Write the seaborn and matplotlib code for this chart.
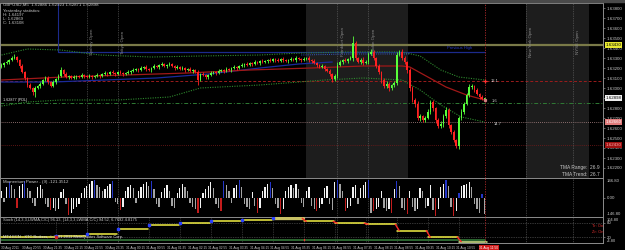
import matplotlib
matplotlib.use("Agg")
import matplotlib.pyplot as plt
from matplotlib.patches import Rectangle
import numpy as np
import pandas as pd
import seaborn as sns

sns.set_theme(style="dark")
plt.rcParams['font.family'] = ['Liberation Sans', 'DejaVu Sans']

# ---------------- data (prices in 1e-4 units) ----------------
close_pts = [16323,16325,16326,16328,16330,16331,16328,16322,16316,16310,
             16303,16300,16296,16300,16302,16304,16308,16310,16306,16302,
             16306,16309,16312,16318,16314,16311,16312,16310,16311,16312,
             16311,16313,16312,16311,16312,16311,16312,16313,16312,16314,
             16315,16314,16316,16315,16314,16316,16315,16314,16315,16316,
             16317,16318,16319,16318,16320,16321,16319,16318,16320,16322,
             16321,16323,16324,16322,16323,16324,16322,16320,16321,16319,
             16320,16318,16319,16317,16318,16316,16308,16314,16313,16311,
             16313,16315,16316,16315,16317,16318,16317,16319,16318,16320,
             16321,16320,16322,16323,16324,16323,16325,16324,16326,16325,
             16327,16326,16327,16328,16327,16329,16328,16327,16329,16328,
             16327,16328,16329,16328,16330,16329,16328,16329,16330,16328,
             16327,16325,16323,16321,16322,16319,16317,16314,16309,16312,
             16323,16326,16328,16327,16329,16330,16345,16330,16326,16328,
             16325,16326,16334,16336,16330,16322,16316,16308,16302,16304,
             16300,16303,16305,16333,16336,16330,16326,16318,16300,16288,
             16284,16270,16272,16268,16270,16276,16286,16280,16268,16262,
             16264,16272,16278,16263,16256,16248,16242,16270,16276,16284,
             16293,16301,16302,16298,16294,16291,16289,16290]
first_open = 16321
wick_up = [2,1,2,1,2,3,1,1,2,1, 1,2,1,2,1,2,1,2,2,1, 2,1,2,3,1,2,1,1,2,1,
           1,2,1,1,2,1,1,2,1,1, 2,1,1,2,1,1,2,1,1,2, 1,2,1,1,2,1,2,1,1,2,
           1,1,2,1,1,2,1,1,2,1, 2,1,1,2,1,1,2,1,2,1, 1,2,1,1,2,1,1,2,1,1,
           2,1,1,2,1,2,1,1,2,1, 1,2,1,1,2,1,1,2,1,2, 1,1,2,1,2,1,1,2,1,2,
           1,2,1,1,2,1,1,2,1,2, 3,2,1,2,1,2,7,2,1,2, 3,2,2,3,2,1,2,1,2,3,
           2,1,2,3,2,3,2,1,2,2, 2,3,2,1,2,3,2,2,1,2, 3,2,3,2,1,2,1,2,3,2,
           2,3,2,1,2,1,2,1]
wick_dn = [1,2,1,2,1,1,2,2,1,2, 2,1,3,5,1,2,1,1,2,1, 1,2,1,1,2,1,2,1,1,2,
           1,1,2,1,1,2,1,1,2,1, 1,2,1,1,2,1,1,2,1,1, 2,1,1,2,1,1,2,1,2,1,
           1,2,1,1,2,1,1,2,1,1, 1,2,1,1,2,1,5,1,1,2, 2,1,1,2,1,1,2,1,1,2,
           1,2,1,1,2,1,1,2,1,1, 2,1,1,2,1,1,2,1,1,2, 1,2,1,1,2,1,2,1,1,2,
           2,1,2,1,1,2,1,2,3,2, 2,1,2,1,2,1,3,2,1,2, 2,1,2,1,2,2,2,3,2,2,
           3,2,2,2,1,2,2,3,3,2, 3,2,3,2,2,1,2,3,3,2, 2,3,2,3,2,2,2,3,2,2,
           1,2,2,2,1,2,1,1]

# TMA / band lines: (bar, price)
tma_mid_bars = [0, 24, 48, 72, 96, 120, 140, 155, 158, 165, 172, 180, 187]
tma_mid_pts = [16308, 16311, 16313, 16315, 16318, 16320, 16322, 16322, 16321, 16311, 16301, 16293, 16288]
band_up_bars = [0, 10, 23, 38, 58, 77, 100, 116, 135, 155, 162, 170, 177, 187]
band_up_pts = [16333, 16339, 16338, 16333, 16331, 16332, 16333, 16335, 16336, 16336, 16332, 16318, 16311, 16308]
band_dn_bars = [0, 10, 23, 45, 65, 77, 100, 125, 140, 155, 162, 170, 178, 187]
band_dn_pts = [16282, 16286, 16288, 16288, 16291, 16300, 16303, 16308, 16310, 16308, 16298, 16283, 16271, 16266]
navy_bars = [0, 20, 40, 60, 80, 100, 115, 128]
navy_pts = [16306, 16306, 16308, 16310, 16314, 16320, 16324, 16326]
ltblue_bars = [116, 135, 158]
ltblue_pts = [16333, 16334, 16334]

lvl_yellow = 16343
lvl_red_dash = 16307
lvl_green_dd = 16285
lvl_pink_dot = 16266
lvl_dred_dot = 16243
prev_high = 16336
prev_start_bar = 22
current_bar = 187

session_bars = [33, 45, 130, 142, 203, 221]
session_names = ["Sydney Open", "Tokyo Open", "Frankfurt Open", "London Open", "New York Open", "NYSE Open"]
shade_spans = [(118, 157.3), (203, 227.4)]

hist_vals = [60,-40,90,130,110,70,-90,100,120,140,
             80,60,-50,-70,90,110,70,-60,-80,-110,
             -90,-120,-100,50,70,-60,-150,-130,-100,-80,
             -60,40,80,100,120,140,150,110,90,60,
             70,100,120,140,-40,-60,-110,-80,60,90,
             110,80,-50,60,90,120,130,100,140,70,
             -60,-80,50,80,110,60,-70,-90,40,80,
             120,90,60,-50,-80,-100,-130,-90,40,70,
             100,130,80,-60,-90,-120,140,110,60,-50,
             80,110,150,90,-60,-80,-100,50,-70,-130,
             -90,60,90,120,130,80,-60,-90,-140,-100,
             60,90,110,80,120,70,-50,-80,60,90,
             -70,-100,-120,-90,-60,80,100,-60,-110,130,
             150,120,60,-120,-90,-70,90,110,-60,80,
             110,130,150,-130,-120,-100,-80,60,-90,-120,
             -100,-130,70,140,100,-90,-110,-140,60,-80,
             -120,-100,80,60,-90,-70,110,-110,-160,-100,
             90,120,150,100,-80,-160,-120,40,100,110,
             120,130,90,-60,-100,-130,30,-140]
blue_bars = [3, 9, 36, 43, 58, 86, 92, 104, 130, 142, 153, 172, 177, 186]
red_bars = [6, 19, 26, 46, 76, 85, 99, 108, 122, 133, 144, 151, 157, 168, 175]

stoch_edges = [0, 21, 33, 45, 57, 69, 81, 93, 105, 117, 129, 141, 153, 165, 177, 188]
stoch_vals = [21.5, 25.9, 33.3, 55.3, 69.7, 78.5, 88.6, 93.0, 99.1, 86.0, 78.5, 74.1, 47.8, 20.2, 0.9]
stoch_green = 9.0

price_ticks = [16220, 16230, 16240, 16250, 16260, 16270, 16280, 16290, 16300,
               16310, 16320, 16330, 16340, 16350, 16360, 16370, 16380]
x_tick_bars = [0, 8, 16, 24, 32, 40, 48, 56, 64, 72, 80, 88, 96, 104, 112, 120,
               128, 136, 144, 152, 160, 168, 176]
x_tick_labels = ["30 Aug 2011", "30 Aug 20:55", "30 Aug 21:35", "30 Aug 22:15", "30 Aug 22:55",
                 "30 Aug 23:35", "31 Aug 00:15", "31 Aug 00:55", "31 Aug 01:35", "31 Aug 02:15",
                 "31 Aug 02:55", "31 Aug 03:35", "31 Aug 04:15", "31 Aug 04:55", "31 Aug 05:35",
                 "31 Aug 06:15", "31 Aug 06:55", "31 Aug 07:35", "31 Aug 08:15", "31 Aug 08:55",
                 "31 Aug 09:35", "31 Aug 10:15", "31 Aug 10:55"]
current_time_label = "31 Aug 11:50"

# ---------------- figure ----------------
W, H = 625, 250
fig = plt.figure(figsize=(6.25, 2.5), dpi=100, facecolor="black")

def ax_rect(x0, y0, x1, y1):
    return [x0 / W, 1 - y1 / H, (x1 - x0) / W, (y1 - y0) / H]

ax = fig.add_axes(ax_rect(0, 3, 603, 178))
axh = fig.add_axes(ax_rect(0, 178, 603, 217))
axs = fig.add_axes(ax_rect(0, 217, 603, 243))

fig.patches.append(Rectangle((0, 1 - 2 / H), 1, 2 / H, transform=fig.transFigure,
                             color="#4a4a4a", zorder=0))

xlim = (-1.5 / 2.584, (603 - 1.5) / 2.584)
FS = 3.2
TXT = "#c8c8c8"
for a in (ax, axh, axs):
    a.set_facecolor("black")
    a.set_xlim(*xlim)
    for s in a.spines.values():
        s.set_color("#8c8c8c")
        s.set_linewidth(0.7)
    a.yaxis.tick_right()
    a.tick_params(axis="y", colors="#8c8c8c", labelcolor=TXT, labelsize=FS, length=1.5,
                  width=0.5, pad=1)
    a.grid(False)

# ---------------- main candles ----------------
df = pd.DataFrame({"close": np.array(close_pts) / 1e4})
df["open"] = [first_open / 1e4] + list(df["close"].iloc[:-1])
df["high"] = np.maximum(df["open"], df["close"]) + np.array(wick_up) / 1e4
df["low"] = np.minimum(df["open"], df["close"]) - np.array(wick_dn) / 1e4
df["bar"] = np.arange(len(df))
bull = df["close"] >= df["open"]
col = np.where(bull, "#58ff3a", "#ff2222")

for lo, hi in shade_spans:
    ax.axvspan(lo, hi, color="#1d1d1d", zorder=0, lw=0)

ax.set_ylim(1.6210, 1.6385)

# horizontal levels
ax.axhline(lvl_yellow / 1e4, color="#7a7a48", lw=1.6, zorder=1)
ax.axhline(lvl_red_dash / 1e4, color="#9a1c1c", lw=0.7, ls=(0, (3, 2)), zorder=1)
ax.axhline(lvl_green_dd / 1e4, color="#2f7a34", lw=0.7, ls=(0, (4, 2, 1, 2)), zorder=1)
ax.axhline(lvl_pink_dot / 1e4, color="#b08888", lw=0.6, ls=(0, (1, 1.5)), zorder=1)
ax.axhline(lvl_dred_dot / 1e4, color="#7a1a1a", lw=0.6, ls=(0, (1, 1.5)), zorder=1)

# previous high bracket
ax.plot([prev_start_bar, prev_start_bar], [prev_high / 1e4, 1.6385], color="#1c2a8c", lw=0.8, zorder=1)
ax.plot([prev_start_bar, current_bar], [prev_high / 1e4, prev_high / 1e4], color="#1c2a8c", lw=0.9, zorder=1)
ax.text(177.4, (prev_high + 4) / 1e4, "Previous High", color="#2a3cc0", fontsize=FS * 0.9,
        ha="center", va="center")

# sessions
for b, name in zip(session_bars, session_names):
    for a in (ax, axh, axs):
        a.axvline(b, color="#6e6e6e", lw=0.5, ls=(0, (1, 1.5)), zorder=1)
    ax.text(b + 1.3, 1.6346, name, rotation=90, color="#8c8c8c", fontsize=FS,
            ha="left", va="center")

# moving-average style lines
sns.lineplot(x=navy_bars, y=np.array(navy_pts) / 1e4, ax=ax, color="#1a2a9a", lw=0.9,
             estimator=None, sort=False, zorder=2)
sns.lineplot(x=tma_mid_bars, y=np.array(tma_mid_pts) / 1e4, ax=ax, color="#a01818", lw=0.9,
             estimator=None, sort=False, zorder=2)
sns.lineplot(x=band_up_bars, y=np.array(band_up_pts) / 1e4, ax=ax, color="#2e8a2e", lw=0.8,
             ls=(0, (1, 1.2)), estimator=None, sort=False, zorder=2)
sns.lineplot(x=band_dn_bars, y=np.array(band_dn_pts) / 1e4, ax=ax, color="#2e8a2e", lw=0.8,
             ls=(0, (1, 1.2)), estimator=None, sort=False, zorder=2)
sns.lineplot(x=ltblue_bars, y=np.array(ltblue_pts) / 1e4, ax=ax, color="#3a5ac0", lw=0.7,
             ls=(0, (1, 1.2)), estimator=None, sort=False, zorder=2)

ax.vlines(df["bar"], df["low"], df["high"], colors=col, lw=0.6, zorder=3)
body_h = np.maximum((df["close"] - df["open"]).abs(), 0.00006)
ax.bar(df["bar"], body_h, bottom=np.minimum(df["open"], df["close"]), width=0.62,
       color=col, lw=0, zorder=4)

# current-bar line
for a in (ax, axh, axs):
    a.axvline(current_bar, color="#b02a2a", lw=0.6, ls=(0, (1.5, 1.5)), zorder=5)
ax.plot([current_bar], [lvl_red_dash / 1e4], marker="+", color="#ff3030", ms=3.5, mew=0.9, zorder=6)
ax.plot([current_bar], [tma_mid_pts[-1] / 1e4], marker="s", color="#d08080", ms=1.3, zorder=6)
ax.text(current_bar + 2.2, lvl_red_dash / 1e4, "12.1", color=TXT, fontsize=FS * 0.9, va="center")
ax.text(current_bar + 2.6, 1.6287, "1.6", color=TXT, fontsize=FS * 0.9, va="center")
ax.text(current_bar + 3.4, 1.6264, "14.7", color=TXT, fontsize=FS * 0.9, va="center")

def ymain(ypix):
    return (178 - ypix) / 175

ax.text(3 / 603, ymain(5.0), "GBPUSD,M5  1.62886 1.62923 1.62871 1.62898", transform=ax.transAxes,
        color=TXT, fontsize=FS, va="center")
for yy, s in [(10.6, "Yesterday statistics:"), (14.6, "H: 1.64197"), (18.8, "L: 1.62869"),
              (23.0, "C: 1.63108")]:
    ax.text(3 / 603, ymain(yy), s, transform=ax.transAxes, color=TXT, fontsize=FS * 0.95, va="center")
ax.text(3 / 603, ymain(100.5), "1.62877 (PDL)", transform=ax.transAxes, color="#e8e8e8",
        fontsize=FS * 0.85, va="center")
ax.text(600 / 603, ymain(167), "TMA Range:  26.9", transform=ax.transAxes, color=TXT,
        fontsize=FS * 1.1, va="center", ha="right")
ax.text(600 / 603, ymain(174), "TMA Trend:  26.7", transform=ax.transAxes, color=TXT,
        fontsize=FS * 1.1, va="center", ha="right")

ax.set_yticks(np.array(price_ticks) / 1e4)
ax.set_yticklabels([f"{p / 1e4:.5f}" for p in price_ticks])
ax.set_xticks([])

ytr = ax.get_yaxis_transform()
for p, txt, bg, fg in [(lvl_yellow, "1.63430", "#e8e830", "black"),
                       (close_pts[-1], "1.62898", "#f0f0f0", "black"),
                       (lvl_pink_dot, "1.62660", "#e07a7a", "white"),
                       (lvl_dred_dot, "1.62430", "#a01212", "#ffb0b0")]:
    ax.text(1.004, p / 1e4, txt, transform=ytr, color=fg, fontsize=FS, va="center", ha="left",
            zorder=10, clip_on=False,
            bbox=dict(boxstyle="square,pad=0.12", fc=bg, ec="none"))

# ---------------- histogram panel ----------------
hv = np.array(hist_vals, dtype=float)
prev = np.concatenate([[0.0], hv[:-1]])
hcol = np.where(hv > prev, "#f2f2f2", "#a4a4a4").astype(object)
hcol[blue_bars] = "#2436c8"
hcol[red_bars] = "#c41c1c"
axh.bar(np.arange(len(hv)), hv, width=0.5, color=list(hcol), lw=0, zorder=3)
axh.set_ylim(-168, 168)
axh.set_yticks([0])
axh.set_yticklabels(["0.00"])
htr = axh.get_yaxis_transform()
axh.text(1.006, 0.93, "146.80", transform=axh.transAxes, color=TXT, fontsize=FS * 0.95,
         va="center", ha="left", clip_on=False)
axh.text(1.006, 0.07, "-146.80", transform=axh.transAxes, color=TXT, fontsize=FS * 0.95,
         va="center", ha="left", clip_on=False)
axh.set_xticks([])
axh.text(3 / 603, 0.9, "Momentum Power - (9) -121.3512", transform=axh.transAxes, color=TXT,
         fontsize=FS, va="center")

# ---------------- stoch panel ----------------
axs.set_ylim(-4.8, 104.8)
for lv in (80, 20):
    axs.axhline(lv, color="#6a6a6a", lw=0.5, ls=(0, (1, 1.5)), zorder=1)
for e in stoch_edges[1:-1]:
    axs.axvline(e, color="#5a5a5a", lw=0.5, ls=(0, (1, 1.5)), zorder=1)
sns.lineplot(x=[0, current_bar], y=[stoch_green, stoch_green], ax=axs, color="#2e6e34", lw=1.3,
             estimator=None, zorder=2)
n_seg = len(stoch_vals)
for k in range(n_seg):
    x0, x1 = stoch_edges[k], min(stoch_edges[k + 1], current_bar + 1) - 0.2
    v = stoch_vals[k]
    if k == 8:
        c, lw = "#c9c266", 2.4
    elif k == n_seg - 1:
        c, lw = "#d8f090", 1.1
    else:
        c, lw = "#f4f044", 1.1
    sns.lineplot(x=[x0, x1], y=[v, v], ax=axs, color=c, lw=lw, estimator=None, zorder=3)
    if k > 0:
        pv = stoch_vals[k - 1]
        if v >= pv:
            axs.plot([x0], [v], marker="s", color="#2a40ff", ms=1.6, zorder=4)
        else:
            axs.plot([x0 - 0.6, x0 + 0.9], [pv, v], color="#ff2a2a", lw=1.0, zorder=4)
axs.plot([21], [stoch_vals[0]], marker="s", color="#d02020", ms=1.4, zorder=4)
axs.plot([117, 117], [stoch_green - 2, stoch_green + 2], color="#ff2a2a", lw=1.0, zorder=4)
axs.set_yticks([80, 20])
axs.set_yticklabels(["80", "20"])
axs.text(1.006, 0.9, "104.80", transform=axs.transAxes, color=TXT, fontsize=FS * 0.9,
         va="center", ha="left", clip_on=False)
axs.text(1.006, 0.08, "-4.80", transform=axs.transAxes, color=TXT, fontsize=FS * 0.9,
         va="center", ha="left", clip_on=False)
axs.text(3 / 603, 0.87, "Stoch (14,3,3,LWMA,C/C) 96.13, (14,3,3,LWMA,C/C) 94.52, 6.7692 4.8175",
         transform=axs.transAxes, color=TXT, fontsize=FS * 0.9, va="center")
axs.text(3 / 603, 0.22, "MT4 ECN - XTC Brokers, \u00a9 2001-2011 MetaQuotes Software Corp.",
         transform=axs.transAxes, color="#e0e0e0", fontsize=FS * 0.9, va="center")
axs.text(592 / 603, 0.64, "Tr: On", transform=axs.transAxes, color="#e03030", fontsize=FS * 0.9,
         va="center", ha="left")
axs.text(592 / 603, 0.42, "Zr: On", transform=axs.transAxes, color="#e03030", fontsize=FS * 0.9,
         va="center", ha="left")

axs.set_xticks(x_tick_bars)
axs.set_xticklabels(x_tick_labels)
axs.tick_params(axis="x", colors="#8c8c8c", labelcolor=TXT, labelsize=2.35, length=1.5,
                width=0.5, pad=0.8)
for lbl in axs.get_xticklabels():
    lbl.set_ha("left")
xtr = axs.get_xaxis_transform()
axs.text(current_bar + 1.5, -0.1, current_time_label, transform=xtr, color="white", fontsize=2.35,
         ha="center", va="top", clip_on=False,
         bbox=dict(boxstyle="square,pad=0.15", fc="#d01818", ec="none"))

fig.savefig("out.png", dpi=100, facecolor="black")
